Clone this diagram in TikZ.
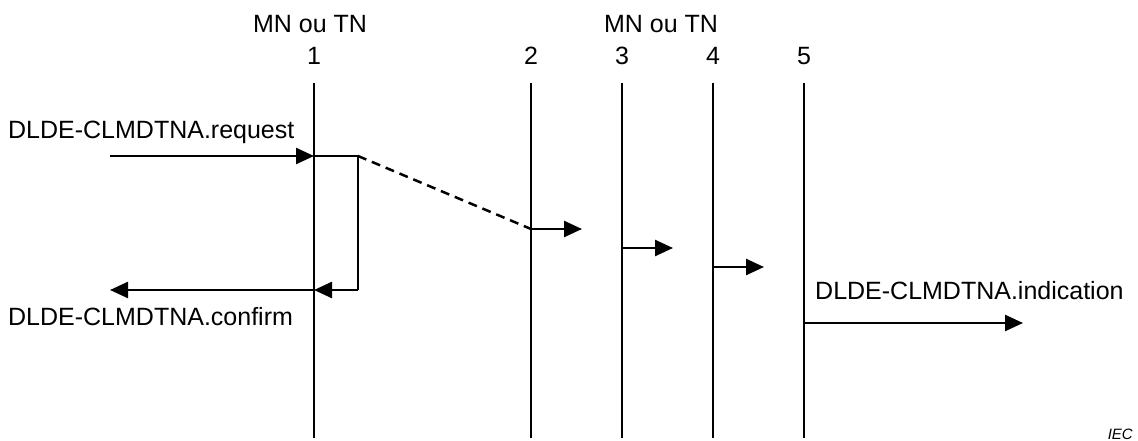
\documentclass[tikz,border=0pt]{standalone}
\usepackage{fontspec}
\setmainfont{Liberation Sans}
\usetikzlibrary{arrows.meta}
\begin{document}
\begin{tikzpicture}[x=1pt,y=-1pt,
  lbl/.style={inner sep=0pt,font=\fontsize{25}{28}\selectfont,anchor=base},
  life/.style={line width=2.5pt},
  msg/.style={line width=2.5pt,-{Triangle[length=18pt,width=16pt]}},
  plain/.style={line width=2.5pt},
  dsh/.style={line width=2.5pt,dash pattern=on 9pt off 6pt}]
\useasboundingbox (0,0) rectangle (1138,441);
% lifelines
\foreach \n/\x in {1/314,2/531,3/622,4/713,5/804}{
  \coordinate (t\n) at (\x,83);
  \coordinate (b\n) at (\x,438);
  \draw[life] (t\n) -- (b\n);
  \node[lbl] (n\n) at (\x,65) {\n};
}
\node[lbl] (g1) at (310,33) {MN ou TN};
\node[lbl] (g2) at (661,33) {MN ou TN};
% request / confirm
\node[lbl,anchor=base west] (req) at (8,139) {DLDE-CLMDTNA.request};
\node[lbl,anchor=base west] (conf) at (8,325) {DLDE-CLMDTNA.confirm};
\coordinate (rs) at (110,156);
\coordinate (r1) at (314,156);
\coordinate (rc) at (358,156);
\coordinate (cc) at (358,290);
\coordinate (c1) at (314,290);
\coordinate (ce) at (110,290);
\draw[msg] (rs) -- (r1);
\draw[plain] (r1) -- (rc) -- (cc);
\draw[msg] (cc) -- (c1);
\draw[msg] (c1) -- (ce);
% dashed to 2
\coordinate (d2) at (531,229);
\draw[dsh] (rc) -- (d2);
\coordinate (e2) at (582,229);
\draw[msg] (d2) -- (e2);
\coordinate (s3) at (622,248);
\coordinate (e3) at (673,248);
\draw[msg] (s3) -- (e3);
\coordinate (s4) at (713,267);
\coordinate (e4) at (764,267);
\draw[msg] (s4) -- (e4);
\coordinate (s5) at (804,323);
\coordinate (e5) at (1023,323);
\draw[msg] (s5) -- (e5);
\node[lbl,anchor=base west] (ind) at (815,299) {DLDE-CLMDTNA.indication};
\node[inner sep=0pt,anchor=base east,font=\fontsize{15}{17}\selectfont\itshape] (iec) at (1133,439) {IEC};
\end{tikzpicture}
\end{document}
